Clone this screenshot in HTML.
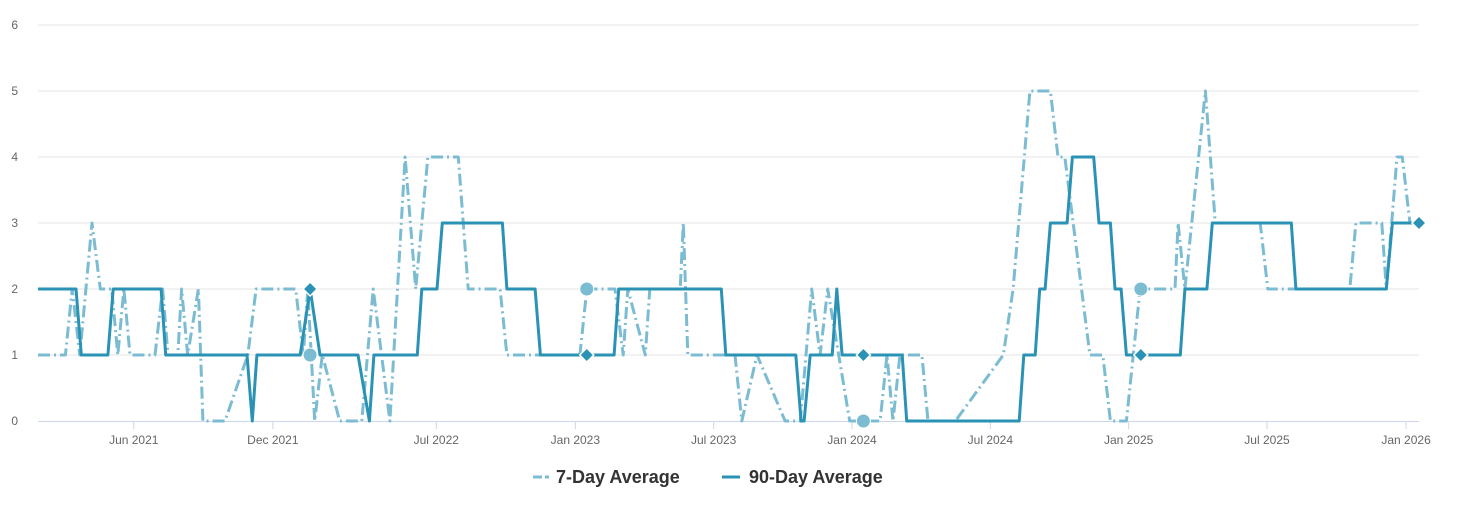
<!DOCTYPE html>
<html><head><meta charset="utf-8">
<style>
body{margin:0;background:#fff;font-family:"Liberation Sans",sans-serif;}
svg text{font-family:"Liberation Sans",sans-serif;}
</style></head>
<body>
<svg id="chart" width="1476" height="511" viewBox="0 0 1476 511" xmlns="http://www.w3.org/2000/svg"></svg>
<script>
// days since 2021-01-26
const yTicks = [0,1,2,3,4,5,6];
const xTickLabels = ["Jun 2021","Dec 2021","Jul 2022","Jan 2023","Jul 2023","Jan 2024","Jul 2024","Jan 2025","Jul 2025","Jan 2026"];
const xTickDays = [126,309,524,707,889,1071,1253,1435,1617,1800];
const avg90Days = [0,50,57,92,99,162,168,275,282,288,345,358,371,421,436,442,499,505,525,532,611,617,654,661,758,764,899,905,997,1004,1008,1016,1045,1051,1058,1137,1143,1291,1297,1312,1318,1325,1332,1354,1361,1389,1396,1411,1417,1425,1432,1503,1509,1538,1545,1649,1655,1774,1782,1817];
const avg90Values = [2,2,1,1,2,2,1,1,0,1,1,2,1,1,0,1,1,2,2,3,3,2,2,1,1,2,2,1,1,0,0,1,1,2,1,1,0,0,1,1,2,2,3,3,4,4,3,3,2,2,1,1,2,2,3,3,2,2,3,3];
const avg7Days = [0,36,45,55,71,82,97,105,113,121,154,164,171,184,189,197,211,217,246,276,287,339,349,355,364,374,397,426,441,463,483,497,513,553,566,608,617,713,722,759,770,776,799,805,845,849,855,917,926,946,983,1003,1018,1029,1039,1068,1108,1117,1125,1134,1163,1171,1207,1270,1283,1305,1332,1342,1351,1384,1401,1411,1432,1450,1496,1500,1509,1536,1549,1608,1618,1726,1734,1768,1774,1788,1795,1805,1817];
const avg7Values = [1,1,2,1,3,2,2,1,2,1,1,2,1,1,2,1,2,0,0,1,2,2,1,2,0,1,0,0,2,0,4,2,4,4,2,2,1,1,2,2,1,2,1,2,2,3,1,1,0,1,0,0,2,1,2,0,0,1,0,1,1,0,0,1,2,5,5,4,4,1,1,0,0,2,2,3,2,5,3,3,2,2,3,3,2,4,4,3,3];
const marker7Days = [358,722,1086,1451];
const marker7Values = [1,2,0,2];
const marker90Days = [358,722,1086,1451,1817];
const marker90Values = [2,1,1,1,3];

const NS="http://www.w3.org/2000/svg";
const svg=document.getElementById('chart');
const X0=38,X1=1419,Y0=421,Y6=25;
const xs=d=>X0+d*(X1-X0)/1817;
const ys=v=>Y0-(v/6)*(Y0-Y6);
function mk(tag,attrs){const e=document.createElementNS(NS,tag);for(const k in attrs)e.setAttribute(k,attrs[k]);svg.appendChild(e);return e;}

yTicks.forEach(v=>{
  if(v>0){const g=mk('line',{x1:X0,x2:X1,y1:ys(v),y2:ys(v),stroke:'#e6e6e6','stroke-width':1});
  
  }
  const t=mk('text',{x:18,y:ys(v)+4,'font-size':12,fill:'#666','text-anchor':'end'});
  t.textContent=v;
  
  
});
const ax=mk('line',{x1:X0,x2:X1,y1:Y0+0.5,y2:Y0+0.5,stroke:'#ccd6eb','stroke-width':1});


xTickLabels.forEach((l,i)=>{
  const x=xs(xTickDays[i]);
  const tk=mk('line',{x1:x,x2:x,y1:Y0,y2:Y0+8,stroke:'#ccd6eb'});
  
  
  const t=mk('text',{x:x,y:444,'font-size':12,fill:'#666','text-anchor':'middle'});
  t.textContent=l;
  
  
});
function pathD(ds,vs){return ds.map((d,i)=>(i?'L':'M')+xs(d).toFixed(1)+','+ys(vs[i]).toFixed(1)).join(' ');}
const p7=mk('path',{d:pathD(avg7Days,avg7Values),fill:'none',stroke:'#7cbcd3','stroke-width':3,'stroke-dasharray':'12,4,2,4','stroke-linejoin':'round'});


const p90=mk('path',{d:pathD(avg90Days,avg90Values),fill:'none',stroke:'#2a93b5','stroke-width':3,'stroke-linejoin':'round'});


marker7Days.forEach((d,i)=>{
  const c=mk('circle',{cx:xs(d),cy:ys(marker7Values[i]),r:7,fill:'#7cbcd3',stroke:'#fff','stroke-width':1});
  
  
});
marker90Days.forEach((d,i)=>{
  const x=xs(d),y=ys(marker90Values[i]),s=7;
  const p=mk('path',{d:`M${x},${y-s} L${x+s},${y} L${x},${y+s} L${x-s},${y} Z`,fill:'#2a93b5',stroke:'#fff','stroke-width':1.5});
  
  
});
// legend
const l1=mk('line',{x1:533,x2:549,y1:477,y2:477,stroke:'#7cbcd3','stroke-width':3,'stroke-dasharray':'9,3'});


const t1=mk('text',{x:556,y:483,'font-size':18,'font-weight':'bold',fill:'#333'});
t1.textContent='7-Day Average';


const l2=mk('line',{x1:722,x2:740,y1:477,y2:477,stroke:'#2a93b5','stroke-width':3});


const t2=mk('text',{x:749,y:483,'font-size':18,'font-weight':'bold',fill:'#333'});
t2.textContent='90-Day Average';


</script>
</body></html>
